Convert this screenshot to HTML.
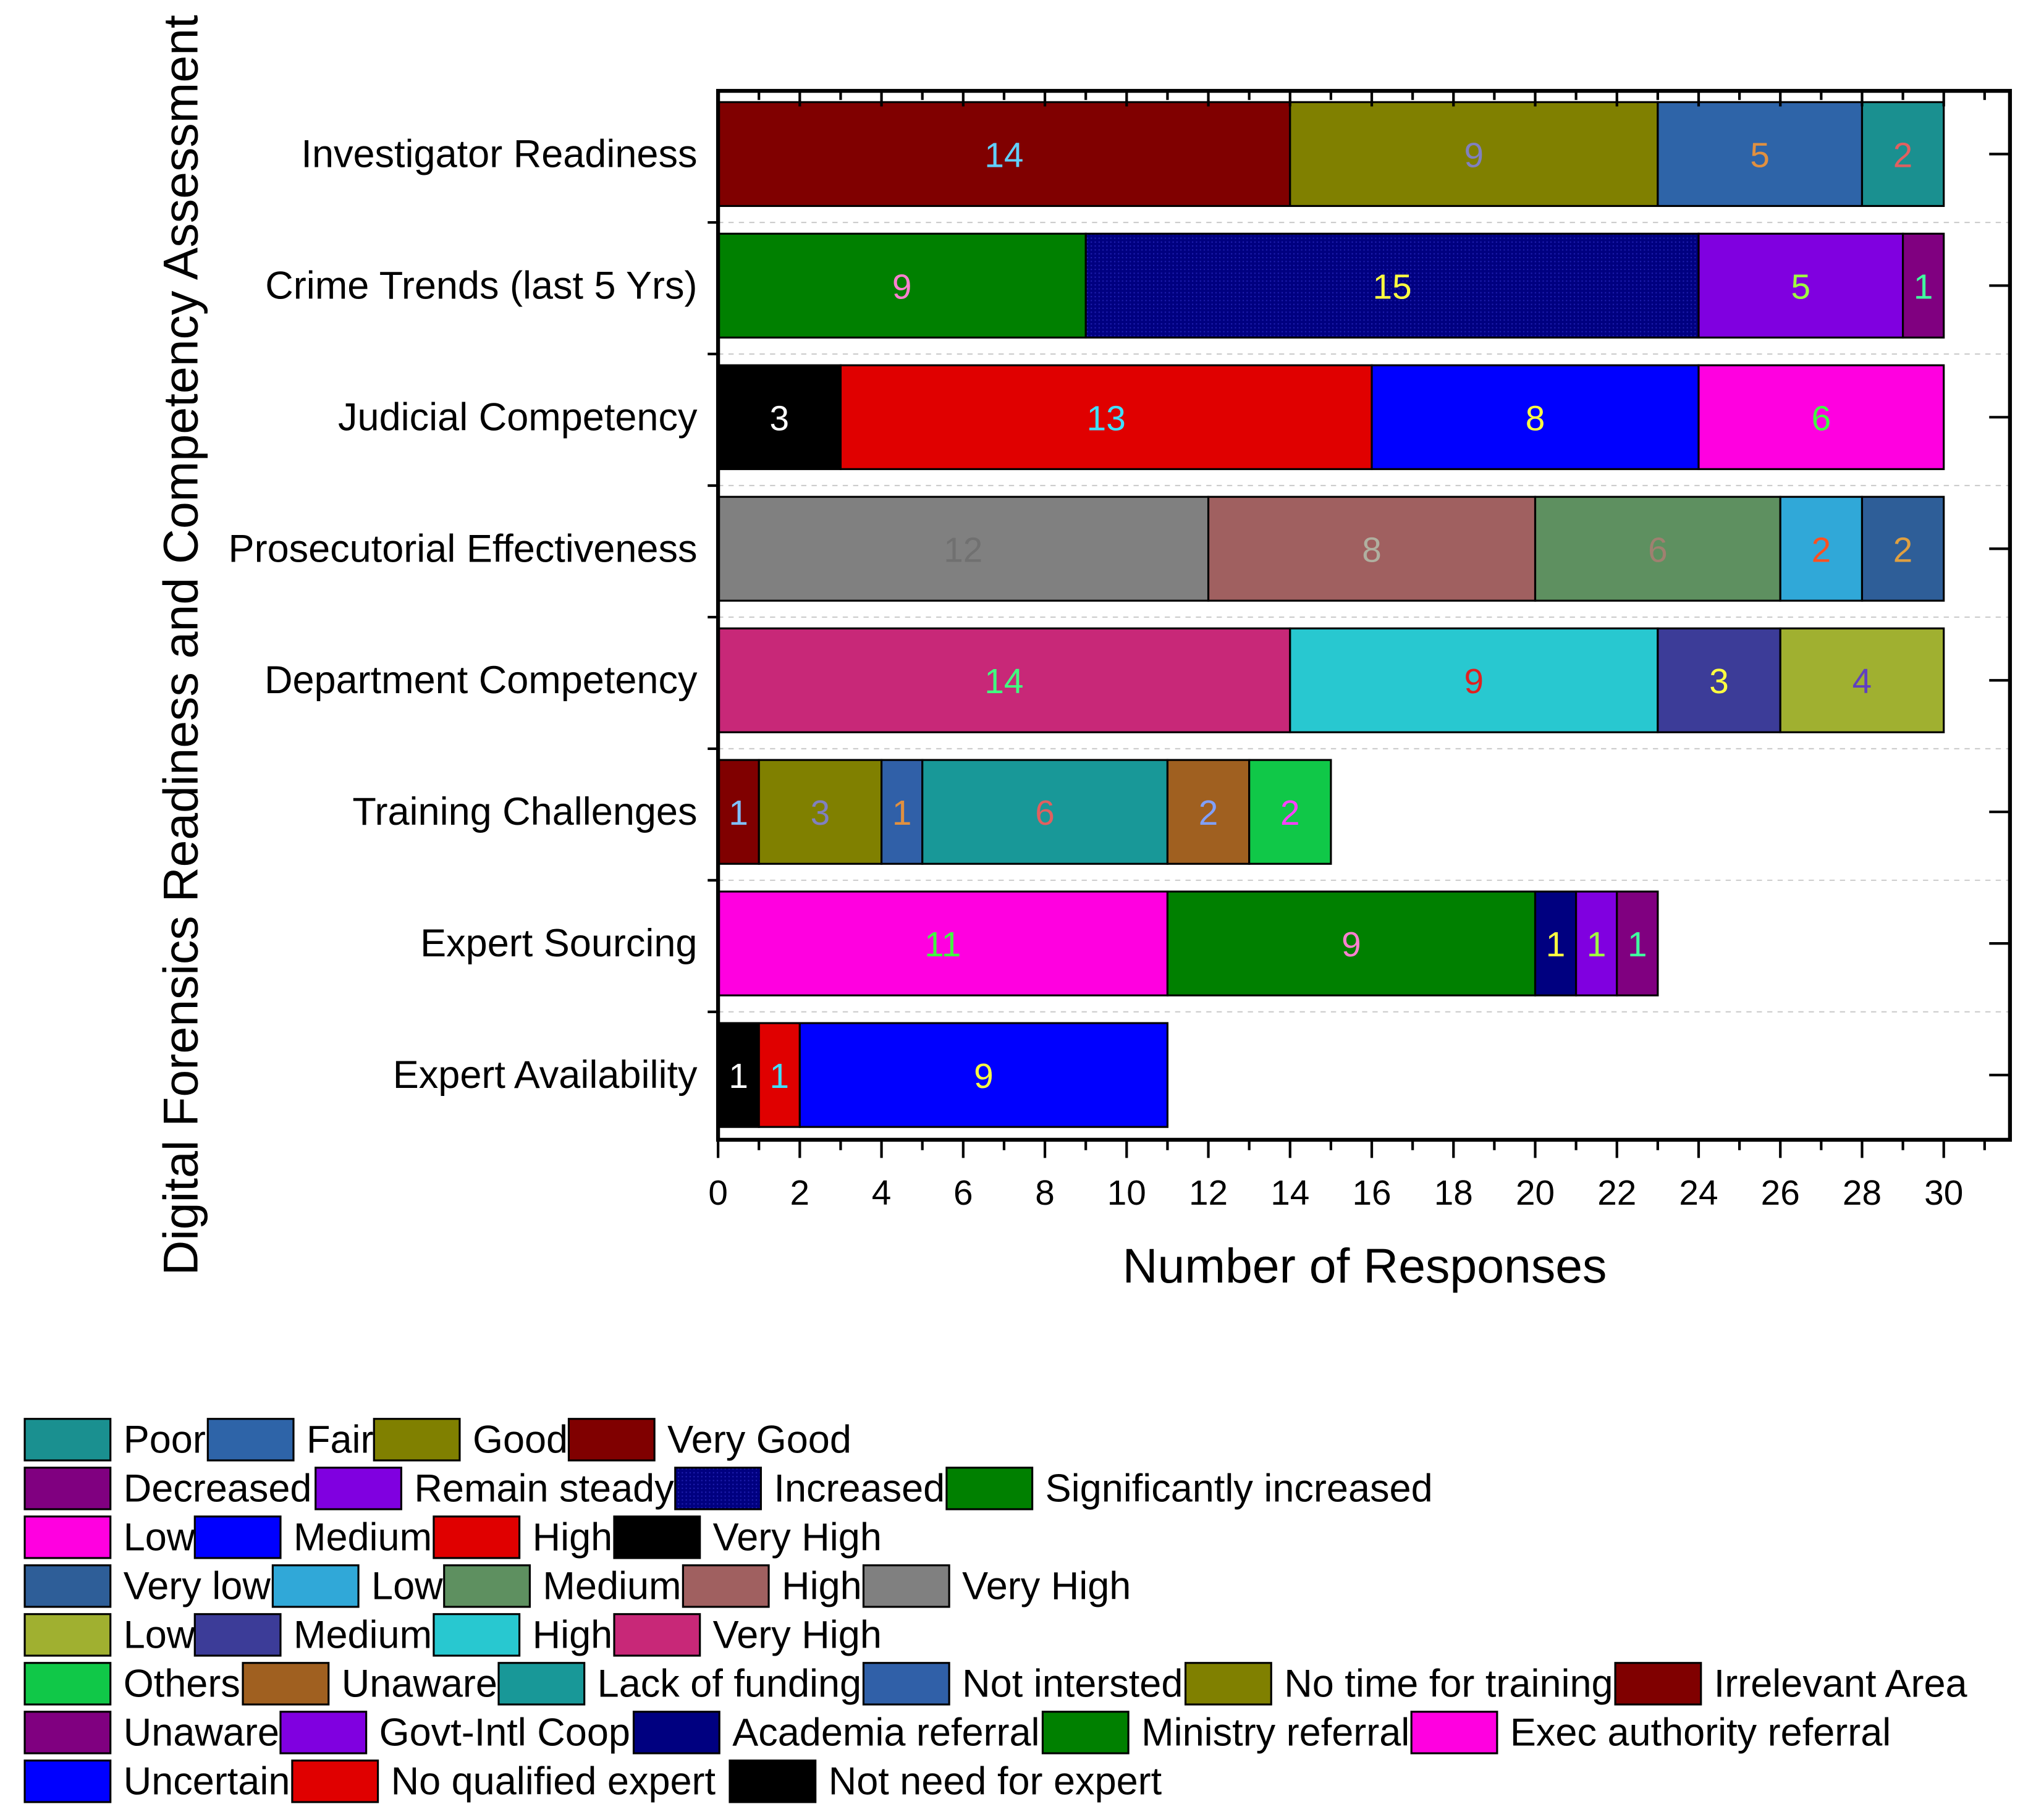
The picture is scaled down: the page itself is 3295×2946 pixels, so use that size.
<!DOCTYPE html>
<html><head><meta charset="utf-8"><style>
html,body{margin:0;padding:0;background:#fff;}
svg{display:block;}
text{font-family:"Liberation Sans",Arial,sans-serif;}
</style></head><body>
<svg id="chart" width="3295" height="2946" viewBox="0 0 1568 1402" xmlns="http://www.w3.org/2000/svg">
<defs>
<pattern id="dots" width="3" height="3" patternUnits="userSpaceOnUse"><rect width="3" height="3" fill="#000080"/><rect width="1" height="1" fill="#2020b0"/></pattern>
</defs>
<g id="plot"></g>
<g id="legend"></g>
</svg>
<script>
const categories = ["Investigator Readiness","Crime Trends (last 5 Yrs)","Judicial Competency","Prosecutorial Effectiveness","Department Competency","Training Challenges","Expert Sourcing","Expert Availability"];
const seriesValues = [[14,9,5,2],[9,15,5,1],[3,13,8,6],[12,8,6,2,2],[14,9,3,4],[1,3,1,6,2,2],[11,9,1,1,1],[1,1,9]];
const seriesColors = [["#800000","#808000","#2e64a8","#1a9090"],["#008000","url(#dots)","#8000e0","#800080"],["#000000","#e00000","#0000ff","#ff00e0"],["#808080","#a06060","#5e9060","#30a8d8","#2e5e98"],["#c82878","#28c8d0","#3c3c98","#a0b030"],["#800000","#808000","#3060a8","#189898","#a06020","#10c848"],["#ff00e0","#008000","#000080","#8000e0","#800080"],["#000000","#e00000","#0000ff"]];
const labelColors = [["#60d0ff","#8080c0","#e09040","#e06060"],["#ff80d0","#ffff40","#a0ff40","#40ffa0"],["#ffffff","#40e0ff","#ffff40","#40ff40"],["#707070","#b0b0a0","#a08070","#ff5020","#e0a040"],["#40ff80","#e02020","#ffff40","#6040c0"],["#80c0ff","#8080c0","#e09040","#e06060","#80a0ff","#ff40ff"],["#40ff40","#ff80d0","#ffff40","#a0ff40","#40ffa0"],["#ffffff","#40e0ff","#ffff40"]];
const xTicks = [0,2,4,6,8,10,12,14,16,18,20,22,24,26,28,30];

const NS="http://www.w3.org/2000/svg";
const plot=document.getElementById('plot');
const X0=553, XR=1548, YT=70, YB=878, unit=(1497-553)/30;
const rowTop=70, rowH=101.35, barH=80;
const xs=v=>X0+v*unit;
const rowC=i=>rowTop+rowH*(i+0.5)-2;
function mk(tag,attrs,parent){const e=document.createElementNS(NS,tag);for(const k in attrs)e.setAttribute(k,attrs[k]);(parent||plot).appendChild(e);return e;}

for(let i=1;i<categories.length;i++){
  const y=rowTop+rowH*i;
  const l=mk('line',{x1:X0,x2:XR,y1:y,y2:y,stroke:'#ccc','stroke-width':1,'stroke-dasharray':'4,4'});
  
  
  const t=mk('line',{x1:X0-8,x2:X0,y1:y,y2:y,stroke:'#000','stroke-width':2});
  
  
}
categories.forEach((c,i)=>{
  const cy=rowC(i);
  let acc=0;
  seriesValues[i].forEach((v,j)=>{
    const r=mk('rect',{x:xs(acc),y:cy-barH/2,width:xs(acc+v)-xs(acc),height:barH,fill:seriesColors[i][j],stroke:'#000','stroke-width':1.5});
    
    
    const t=mk('text',{x:(xs(acc)+xs(acc+v))/2,y:cy+10,'text-anchor':'middle','font-size':27,fill:labelColors[i][j]});
    t.textContent=v;
    
    
    acc+=v;
  });
  const lab=mk('text',{x:537,y:cy+10,'text-anchor':'end','font-size':30,fill:'#000'});
  lab.textContent=c;
  
  
  const rt=mk('line',{x1:1532,x2:XR,y1:cy,y2:cy,stroke:'#000','stroke-width':2});
  
  
});
const fr=mk('rect',{x:X0,y:YT,width:XR-X0,height:YB-YT,fill:'none',stroke:'#000','stroke-width':3});


for(let v=0;v<=31;v++){
  const x=xs(v), major=v%2===0;
  const b=mk('line',{x1:x,x2:x,y1:YB,y2:YB+(major?14:8),stroke:'#000','stroke-width':2});
  
  
  const t=mk('line',{x1:x,x2:x,y1:YT,y2:YT+(major?12:7),stroke:'#000','stroke-width':2});
  
  
}
xTicks.forEach(v=>{
  const t=mk('text',{x:xs(v),y:928,'text-anchor':'middle','font-size':27,fill:'#000'});
  t.textContent=v;
  
  
});
const xt=mk('text',{x:1051,y:988,'text-anchor':'middle','font-size':37.5,fill:'#000'});
xt.textContent='Number of Responses';


const yt=mk('text',{x:0,y:0,'text-anchor':'middle','font-size':37.5,fill:'#000',transform:'translate(152,497) rotate(-90)'});
yt.textContent='Digital Forensics Readiness and Competency Assessment';



const legendRows=[
 [["Poor","#1a9090",19],["Fair","#2e64a8",160],["Good","#808000",288],["Very Good","#800000",438]],
 [["Decreased","#800080",19],["Remain steady","#8000e0",243],["Increased","url(#dots)",520],["Significantly increased","#008000",729]],
 [["Low","#ff00e0",19],["Medium","#0000ff",150],["High","#e00000",334],["Very High","#000000",473]],
 [["Very low","#2e5e98",19],["Low","#30a8d8",210],["Medium","#5e9060",342],["High","#a06060",526],["Very High","#808080",665]],
 [["Low","#a0b030",19],["Medium","#3c3c98",150],["High","#28c8d0",334],["Very High","#c82878",473]],
 [["Others","#10c848",19],["Unaware","#a06020",187],["Lack of funding","#189898",384],["Not intersted","#3060a8",665],["No time for training","#808000",913],["Irrelevant Area","#800000",1244]],
 [["Unaware","#800080",19],["Govt-Intl Coop","#8000e0",216],["Academia referral","#000080",488],["Ministry referral","#008000",803],["Exec authority referral","#ff00e0",1087]],
 [["Uncertain","#0000ff",19],["No qualified expert","#e00000",225],["Not need for expert","#000000",562]]
];
const lg=document.getElementById('legend');
legendRows.forEach((row,ri)=>{
  const cy=1109+ri*37.6;
  row.forEach(([name,col,x])=>{
    const s=mk('rect',{x:x,y:cy-16,width:66,height:32,fill:col,stroke:'#000','stroke-width':1.5},lg);
    
    
    const t=mk('text',{x:x+76,y:cy+10,'font-size':30,fill:'#000'},lg);
    t.textContent=name;
    
    
  });
});
</script>
</body></html>
